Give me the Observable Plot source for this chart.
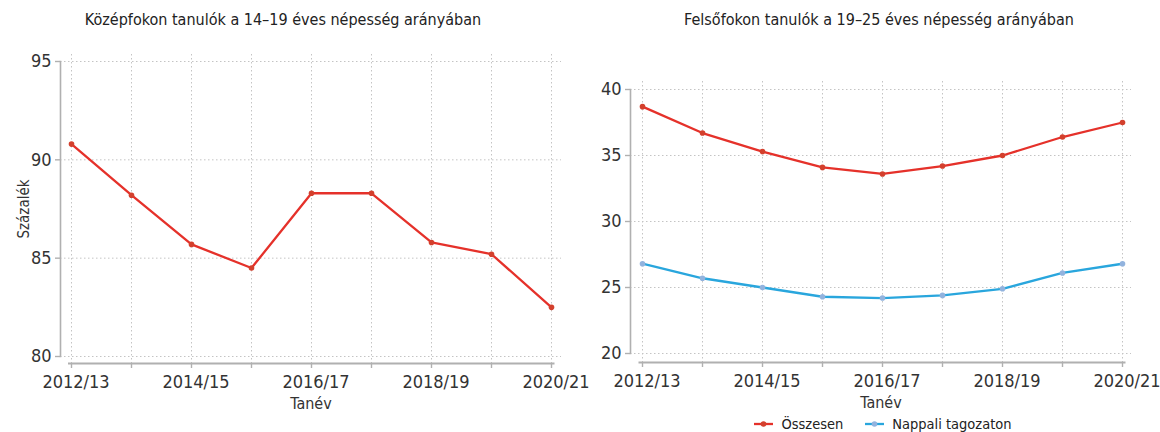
<!DOCTYPE html>
<html>
<head>
<meta charset="utf-8">
<script src="https://cdn.jsdelivr.net/npm/d3@7"></script>
<script src="https://cdn.jsdelivr.net/npm/@observablehq/plot@0.6"></script>
<style>
  body { margin: 0; background: #fff; font-family: "Liberation Sans Narrow", "DejaVu Sans Condensed", sans-serif; color: #333; }
  #wrap { display: flex; width: 1160px; height: 432px; }
  .panel { width: 580px; position: relative; }
  #left { z-index: 2; }
  .panel svg { background: none; }
  .title { height: 40px; line-height: 40px; text-align: center; font-size: 16px; color: #222; white-space: nowrap; position: relative; }
  .legend { display: flex; justify-content: center; align-items: center; height: 17px; font-size: 14.5px; color: #222; position: relative; left: 13px; }
  .legend .item { display: flex; align-items: center; }
  .legend svg { margin-right: 8px; }
  .legend .item + .item { margin-left: 22px; }
</style>
</head>
<body>
<div id="wrap">
  <div class="panel" id="left">
    <div class="title" style="left:-7px">Középfokon tanulók a 14–19 éves népesség arányában</div>
  </div>
  <div class="panel" id="right">
    <div class="title" style="left:9px">Felsőfokon tanulók a 19–25 éves népesség arányában</div>
  </div>
</div>
<script>
// ---- data ----
const categories = ["2012/13", "2013/14", "2014/15", "2015/16", "2016/17", "2017/18", "2018/19", "2019/20", "2020/21"];
const xTickLabels = ["2012/13", "2014/15", "2016/17", "2018/19", "2020/21"];
const kozepfok = [90.8, 88.2, 85.7, 84.5, 88.3, 88.3, 85.8, 85.2, 82.5];
const osszesen = [38.7, 36.7, 35.3, 34.1, 33.6, 34.2, 35.0, 36.4, 37.5];
const nappali = [26.8, 25.7, 25.0, 24.3, 24.2, 24.4, 24.9, 26.1, 26.8];
const yTicksLeft = [80, 85, 90, 95];
const yTicksRight = [20, 25, 30, 35, 40];
const seriesNames = ["Összesen", "Nappali tagozaton"];

// ---- styles ----
const FONT = `"Liberation Sans Narrow", "DejaVu Sans Condensed", sans-serif`;
const AXIS = "#b0b0b0";
const GRID = { stroke: "#c4c4c4", strokeOpacity: 1, strokeDasharray: "1.5,2.5", strokeWidth: 1 };
const lineColors = ["#e5312a", "#29a6dd"];
const dotColors = ["#d3402d", "#92b3de"];

const leftData = categories.map((c, i) => ({ tanev: c, value: kozepfok[i] }));
const rightData = [
  ...categories.map((c, i) => ({ tanev: c, value: osszesen[i], series: seriesNames[0] })),
  ...categories.map((c, i) => ({ tanev: c, value: nappali[i], series: seriesNames[1] }))
];

function makePanel({ data, yDomain, yTicks, margins, insets, ylabel, multi }) {
  const [mt, mr, mb, ml] = margins;
  const [it, ir, ib, il] = insets;
  const marks = [
    Plot.gridY(yTicks, GRID),
    Plot.gridX(categories, GRID),
    Plot.frame({ anchor: "left", stroke: AXIS, strokeWidth: 1.6, insetTop: it, insetBottom: ib }),
    Plot.frame({ anchor: "bottom", stroke: AXIS, strokeWidth: 2, insetLeft: il, insetRight: ir }),
    Plot.axisY(yTicks, { tickSize: 5, tickPadding: 4, stroke: AXIS, strokeWidth: 1.4, fill: "#333", fontSize: 18, label: null }),
    Plot.axisX(categories, { tickSize: 5, stroke: AXIS, strokeWidth: 1.4, tickFormat: () => "", label: null }),
    Plot.axisX(xTickLabels, { tickSize: 0, tickPadding: 12, dx: 4.5, fill: "#333", fontSize: 18, label: null }),
    Plot.axisX([], { label: "Tanév", labelAnchor: "center", labelArrow: "none", labelOffset: 45, fill: "#333", fontSize: 16 })
  ];
  if (ylabel) {
    marks.push(Plot.axisY([], { label: ylabel, labelAnchor: "center", labelArrow: "none", labelOffset: 42, fill: "#333", fontSize: 15 }));
  }
  if (multi) {
    marks.push(
      Plot.line(data, { x: "tanev", y: "value", z: "series", stroke: "series", strokeWidth: 2.3 }),
      Plot.dot(data, { x: "tanev", y: "value", fill: d => dotColors[seriesNames.indexOf(d.series)], r: 2.8 })
    );
  } else {
    marks.push(
      Plot.line(data, { x: "tanev", y: "value", stroke: lineColors[0], strokeWidth: 2.3 }),
      Plot.dot(data, { x: "tanev", y: "value", fill: dotColors[0], r: 2.8 })
    );
  }
  return Plot.plot({
    width: 580,
    height: 375,
    marginTop: mt, marginRight: mr, marginBottom: mb, marginLeft: ml,
    style: { fontFamily: FONT, background: "none", color: "#333", overflow: "visible" },
    x: { type: "point", domain: categories, padding: 0, insetLeft: il, insetRight: ir },
    y: { domain: yDomain, insetTop: it, insetBottom: ib },
    color: { domain: seriesNames, range: lineColors },
    marks
  });
}

document.getElementById("left").appendChild(makePanel({
  data: leftData, yDomain: [80, 95], yTicks: yTicksLeft,
  margins: [14, 19, 52, 60], insets: [7, 8, 7, 8.5], ylabel: "Százalék", multi: false
}));
document.getElementById("right").appendChild(makePanel({
  data: rightData, yDomain: [20, 40], yTicks: yTicksRight,
  margins: [41, 29, 53, 50], insets: [8, 7, 9, 9], ylabel: null, multi: true
}));

// legend
const legend = document.createElement("div");
legend.className = "legend";
seriesNames.forEach((name, i) => {
  const item = document.createElement("div");
  item.className = "item";
  item.innerHTML = `<svg width="19" height="8"><line x1="0" x2="19" y1="4" y2="4" stroke="${lineColors[i]}" stroke-width="2.3"/><circle cx="9.5" cy="4" r="2.8" fill="${dotColors[i]}"/></svg><span>${name}</span>`;
  legend.appendChild(item);
});
document.getElementById("right").appendChild(legend);
</script>
</body>
</html>
